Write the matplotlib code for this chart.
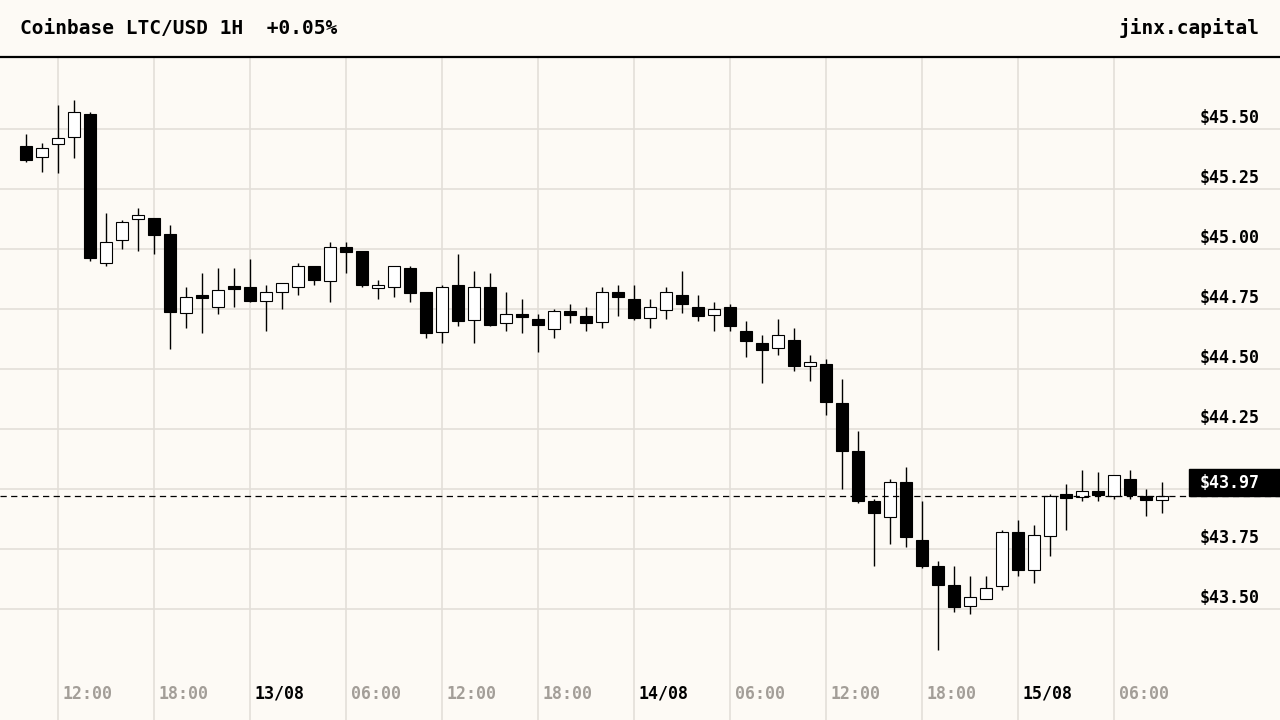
import numpy as np
import matplotlib
matplotlib.use("Agg")
import matplotlib.pyplot as plt
import matplotlib.transforms as mtransforms

# hourly candles, Coinbase LTC/USD, first bar = 12/08 10:00
opens = [45.429, 45.382, 45.436, 45.465, 45.5625, 44.940, 45.036, 45.124, 45.129, 45.0625,
         44.732, 44.800, 44.760, 44.840, 44.842, 44.782, 44.820, 44.840, 44.928, 44.868,
         45.007, 44.992, 44.839, 44.840, 44.920, 44.820, 44.653, 44.850, 44.703, 44.840,
         44.690, 44.718, 44.707, 44.665, 44.742, 44.721, 44.695, 44.821, 44.792, 44.711,
         44.745, 44.808, 44.757, 44.724, 44.757, 44.658, 44.608, 44.586, 44.620, 44.511,
         44.521, 44.358, 44.158, 43.950, 43.882, 44.028, 43.788, 43.679, 43.600, 43.511,
         43.540, 43.595, 43.820, 43.661, 43.803, 43.978, 43.967, 43.990, 43.970, 44.040,
         43.970, 43.953]
highs = [45.479, 45.442, 45.600, 45.621, 45.570, 45.149, 45.121, 45.171, 45.129, 45.100,
         44.842, 44.901, 44.920, 44.920, 44.958, 44.849, 44.857, 44.942, 44.928, 45.028,
         45.028, 44.992, 44.871, 44.929, 44.929, 44.820, 44.850, 44.979, 44.908, 44.900,
         44.820, 44.792, 44.729, 44.749, 44.771, 44.757, 44.840, 44.850, 44.850, 44.792,
         44.840, 44.908, 44.808, 44.779, 44.771, 44.700, 44.642, 44.708, 44.671, 44.558,
         44.542, 44.458, 44.242, 43.958, 44.042, 44.092, 43.950, 43.700, 43.679, 43.638,
         43.638, 43.829, 43.871, 43.850, 43.979, 44.021, 44.079, 44.071, 44.057, 44.079,
         43.999, 44.028]
lows = [45.364, 45.322, 45.315, 45.380, 44.951, 44.930, 45.001, 44.993, 44.980, 44.582,
        44.672, 44.651, 44.730, 44.760, 44.780, 44.660, 44.751, 44.810, 44.850, 44.780,
        44.901, 44.843, 44.793, 44.801, 44.780, 44.630, 44.610, 44.680, 44.610, 44.680,
        44.660, 44.651, 44.572, 44.630, 44.693, 44.660, 44.672, 44.722, 44.703, 44.672,
        44.710, 44.732, 44.701, 44.660, 44.660, 44.551, 44.443, 44.560, 44.493, 44.451,
        44.310, 44.000, 43.943, 43.679, 43.771, 43.758, 43.672, 43.329, 43.489, 43.480,
        43.540, 43.580, 43.639, 43.610, 43.722, 43.830, 43.951, 43.951, 43.960, 43.960,
        43.889, 43.901]
closes = [45.372, 45.420, 45.461, 45.570, 44.964, 45.028, 45.111, 45.140, 45.060, 44.736,
          44.799, 44.795, 44.828, 44.835, 44.785, 44.820, 44.857, 44.928, 44.872, 45.007,
          44.989, 44.851, 44.840, 44.929, 44.815, 44.651, 44.840, 44.701, 44.840, 44.685,
          44.729, 44.716, 44.682, 44.742, 44.724, 44.693, 44.820, 44.801, 44.714, 44.757,
          44.820, 44.770, 44.720, 44.749, 44.680, 44.618, 44.580, 44.640, 44.514, 44.528,
          44.364, 44.160, 43.951, 43.901, 44.028, 43.801, 43.680, 43.600, 43.510, 43.549,
          43.586, 43.820, 43.664, 43.807, 43.970, 43.961, 43.990, 43.974, 44.057, 43.974,
          43.953, 43.970]

price_ticks = [43.50, 43.75, 44.00, 44.25, 44.50, 44.75, 45.00, 45.25, 45.50]
time_idx = [2, 8, 14, 20, 26, 32, 38, 44, 50, 56, 62, 68]
time_labels = ["12:00", "18:00", "13/08", "06:00", "12:00", "18:00",
               "14/08", "06:00", "12:00", "18:00", "15/08", "06:00"]

title = "Coinbase LTC/USD 1H  +0.05%"
brand = "jinx.capital"

bg = "#fdfaf5"
grid_c = "#e3dfd9"
muted = "#a39e98"
plt.rcParams['font.family'] = ['DejaVu Sans Mono']
plt.rcParams['font.weight'] = 'bold'

fig = plt.figure(figsize=(12.8, 7.2), dpi=100, facecolor=bg)
ax = fig.add_axes([0, 0, 1, 662 / 720])
ax.set_facecolor(bg)
for s in ax.spines.values():
    s.set_visible(False)
ax.set_xticks([])
ax.set_yticks([])

# pixel layout: 16 px per candle, first one at x=26
ax.set_xlim(-26 / 16, (1280 - 26) / 16)
ax.set_ylim(43.5 - 111 / 240, 43.5 + 551 / 240)

x = np.arange(len(opens))
o = np.array(opens); c = np.array(closes)
h = np.array(highs); l = np.array(lows)
up = c >= o

for t in price_ticks:
    ax.axhline(t, color=grid_c, lw=1.2, zorder=0)
for i in time_idx:
    ax.axvline(i, color=grid_c, lw=1.2, zorder=0)

# wicks then bodies
ax.vlines(x, l, h, color="black", lw=1.0, zorder=2)
body_lo = np.minimum(o, c)
body_h = np.maximum(np.abs(c - o), 0.012)
ax.bar(x[up], body_h[up], bottom=body_lo[up], width=0.72, color="white",
       edgecolor="black", linewidth=0.8, zorder=3)
ax.bar(x[~up], body_h[~up], bottom=body_lo[~up], width=0.72, color="black",
       edgecolor="black", linewidth=0.8, zorder=3)

# last price line + box
last = closes[-1]
ax.axhline(last, color="black", lw=0.9, ls=(0, (5, 3.5)), zorder=4)
tr = mtransforms.blended_transform_factory(ax.transAxes, ax.transData)
ax.add_patch(plt.Rectangle((1189 / 1280, last), 91 / 1280, 27 / 240,
                           transform=tr, color="black", zorder=5, clip_on=False))
ax.text(1260 / 1280, last + 13.5 / 240, f"${last:.2f}", transform=tr,
        ha="right", va="center", color="white", fontsize=12, fontweight="bold", zorder=6)

for t in price_ticks:
    if abs(t - last) < 0.1:
        continue
    ax.annotate(f"${t:.2f}", xy=(1260 / 1280, t), xycoords=tr,
                xytext=(0, 11), textcoords="offset pixels",
                ha="right", va="center", fontsize=12, fontweight="bold", color="black")

trx = mtransforms.blended_transform_factory(ax.transData, ax.transAxes)
for i, lab in zip(time_idx, time_labels):
    col = "black" if "/" in lab else muted
    ax.annotate(lab, xy=(i, 0), xycoords=trx, xytext=(5, 26), textcoords="offset pixels",
                ha="left", va="center", fontsize=12, fontweight="bold", color=col)

# header
fig.text(20 / 1280, 1 - 28 / 720, title, ha="left", va="center", fontsize=14, fontweight="bold")
fig.text(1260 / 1280, 1 - 28 / 720, brand, ha="right", va="center", fontsize=14, fontweight="bold")
fig.add_artist(plt.Line2D([0, 1], [1 - 57 / 720, 1 - 57 / 720], color="black", lw=1.6,
                          transform=fig.transFigure))

fig.savefig("out.png", dpi=100, facecolor=bg)
